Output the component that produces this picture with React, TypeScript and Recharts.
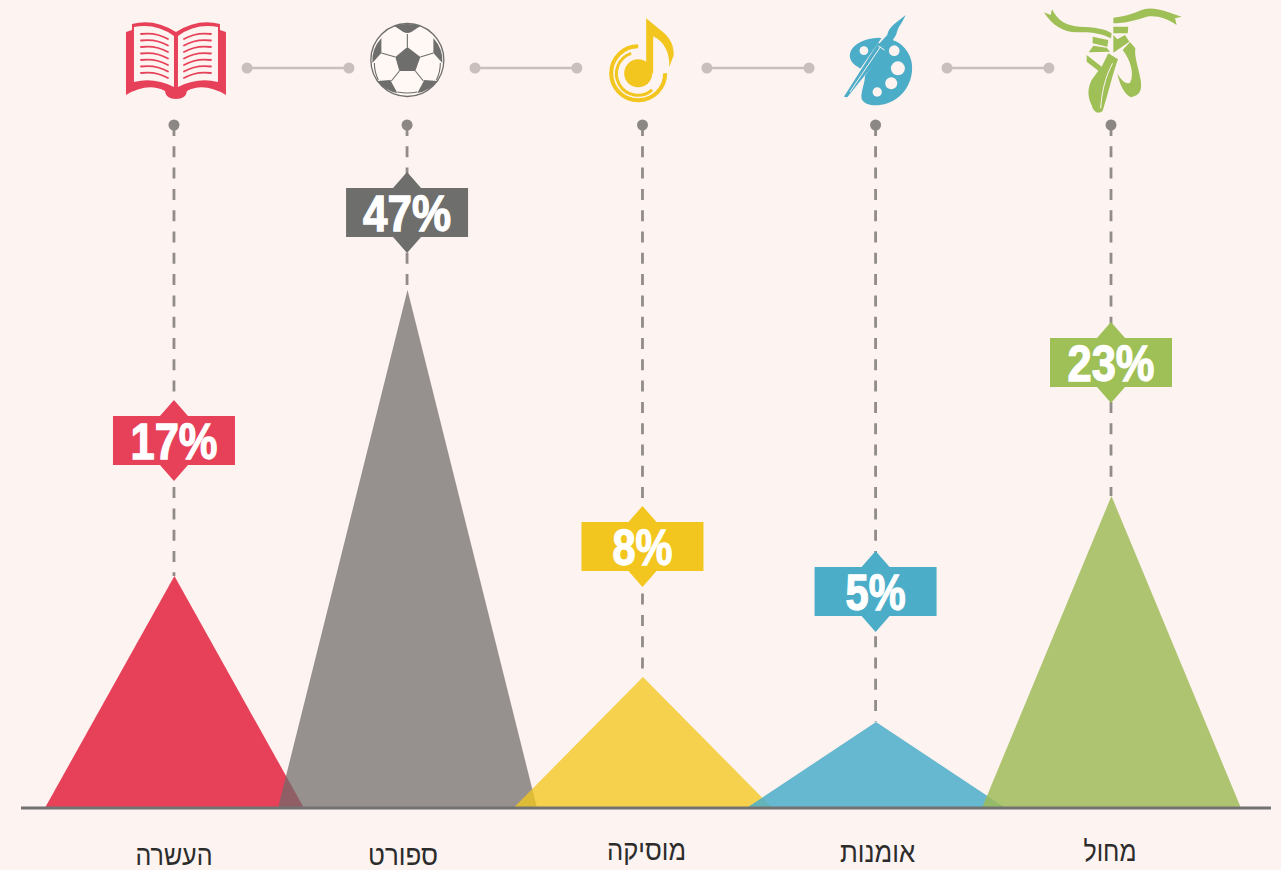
import React from "react";
import { ComposedChart, Bar, XAxis, YAxis, ReferenceLine, ReferenceDot } from "recharts";

// Data
const categories = ["העשרה", "ספורט", "מוסיקה", "אומנות", "מחול"];
const percents = [17, 47, 8, 5, 23];
const peakHeights = [232, 518, 131, 86, 312];
const badgeLevels = [367, 595, 261, 216, 445];
const slots = [0, 0.995, 2, 2.995, 4];

const colors = ["#e7415a", "#6e6e6c", "#f2c61f", "#4cadc9", "#9fbf57"];
const triangleOpacity = [1, 0.73, 0.78, 0.86, 0.84];
const triangleFill = ["#e7415a", "#6f6b69", "#f2c61f", "#4cadc9", "#9fbb57"];
const BG = "#fdf3f0";

const GUIDE_TOP = 683;
const ICON_LEVEL = 740;
const TRIANGLE_HALF_BASE = 129.5;
const connectors: [number, number][] = [
  [0.312, 0.747],
  [1.285, 1.72],
  [2.275, 2.711],
  [3.3, 3.735],
];

const tickStyle = [
  { dx: 0, base: 865, w: 77 },
  { dx: -4, base: 865, w: 70 },
  { dx: 4, base: 860, w: 79 },
  { dx: 2, base: 862, w: 75 },
  { dx: -1, base: 861, w: 53 },
];
const badgeTextWidth = [87, 88, 60, 60, 87];

const chartData = categories.map((name, i) => ({
  name,
  slot: slots[i],
  height: peakHeights[i],
  percent: percents[i],
}));

const Triangle = (props: any) => {
  const { x, y, width, height, index } = props;
  const i = index ?? 0;
  const c = x + width / 2;
  return (
    <path
      d={`M${c - TRIANGLE_HALF_BASE},${y + height}L${c},${y}L${c + TRIANGLE_HALF_BASE},${y + height}Z`}
      fill={triangleFill[i]}
      fillOpacity={triangleOpacity[i]}
    />
  );
};

const Tick = (props: any) => {
  const { x, index } = props;
  const s = tickStyle[index] ?? tickStyle[0];
  return (
    <text
      x={x + s.dx}
      y={s.base}
      textAnchor="middle"
      fontFamily="'Liberation Sans', sans-serif"
      fontSize={29}
      fill="#2c2c2c"
      textLength={s.w}
      lengthAdjust="spacingAndGlyphs"
    >
      {categories[index]}
    </text>
  );
};

const Badge = (i: number) => (props: any) => {
  const { cx, cy } = props;
  return (
    <g>
      <path
        d={`M${cx},${cy - 41}L${cx + 14},${cy - 25}L${cx + 61},${cy - 25}L${cx + 61},${cy + 24}L${cx + 14},${cy + 24}L${cx},${cy + 40}L${cx - 14},${cy + 24}L${cx - 61},${cy + 24}L${cx - 61},${cy - 25}L${cx - 14},${cy - 25}Z`}
        fill={colors[i]}
      />
      <text
        x={cx}
        y={cy + 18}
        textAnchor="middle"
        fill="#fff"
        stroke="#fff"
        strokeWidth={1.3}
        fontFamily="'Liberation Sans', sans-serif"
        fontWeight={700}
        fontSize={50}
        textLength={badgeTextWidth[i]}
        lengthAdjust="spacingAndGlyphs"
      >
        {`${percents[i]}%`}
      </text>
    </g>
  );
};

const BookIcon = () => {
  const c = colors[0];
  const ys = [-26, -19.5, -13, -6.5, 0, 6.5, 13];
  return (
    <g transform="translate(2,-8)">
      <path
        d="M-50,-28L-44,-30L-44,-36Q-22,-42 0,-28Q22,-42 44,-36L44,-30L50,-28L50,35Q28,22 11,31Q10,39 0,39Q-10,39 -11,31Q-28,22 -50,35Z"
        fill={c}
      />
      <path d="M-42,-33Q-20,-37 -2,-24L-2,27Q-22,17 -42,22Z" fill={BG} />
      <path d="M42,-33Q20,-37 2,-24L2,27Q22,17 42,22Z" fill={BG} />
      {ys.map((y) => (
        <g key={y} fill="none" stroke={c} strokeWidth={1.8} strokeLinecap="round">
          <path d={`M-35,${y}Q-20,${y - 2} -8,${y + 5}`} />
          <path d={`M35,${y}Q20,${y - 2} 8,${y + 5}`} />
        </g>
      ))}
    </g>
  );
};

const BallIcon = () => {
  const c = "#6e6e6c";
  return (
    <g transform="translate(0.3,-8)">
      <circle r={36.5} fill="#fff8f5" stroke={c} strokeWidth={1.3} />
      <path d="M0,-13L13,-3L8,11L-8,11L-12,-3Z" fill={c} />
      <path d="M-13,-34Q0,-38 13,-34L4,-28Q0,-26 -4,-28Z" fill={c} />
      <path d="M26,-22Q36,-11 35,3L26,-7Z" fill={c} />
      <path d="M-26,-22Q-36,-11 -35,3L-26,-7Z" fill={c} />
      <path d="M-30,21L-17,20L-10,33Q-22,31 -30,21Z" fill={c} />
      <path d="M30,21L17,20L10,33Q22,31 30,21Z" fill={c} />
      <g stroke={c} strokeWidth={1.1} fill="none">
        <path d="M0,-13L0,-26M13,-3L26,-7M8,11L16,21M-8,11L-16,21M-12,-3L-26,-7" />
        <path d="M-10,32Q0,34 10,32" />
        <path d="M-33,3Q-33,12 -29,20M33,3Q33,12 29,20" />
      </g>
    </g>
  );
};

const MusicIcon = () => {
  const c = colors[2];
  return (
    <g transform="translate(-4.3,5.3)">
      <circle r={14} fill={c} />
      <path
        d="M8,-12L8,-55L20,-45C30,-38 36,-30 35.5,-18L31,-6C32,-20 26,-32 15,-37L15,0L8,0Z"
        fill={c}
      />
      <path d="M0,-27A27,27 0 1 0 27,0" fill="none" stroke={c} strokeWidth={4} />
      <path d="M-7,-20A21.5,21.5 0 1 0 14,16.5" fill="none" stroke={c} strokeWidth={3} />
    </g>
  );
};

const PaletteIcon = () => {
  const c = colors[3];
  return (
    <g transform="scale(0.3333) translate(-885,-204)">
      <path
        d="M895,113C850,115 805,135 808,172C812,195 835,200 850,215C862,235 835,280 845,300C860,325 920,320 955,290C985,265 1000,225 993,185C985,150 955,120 925,118Z"
        fill={c}
      />
      {[
        [850, 152, 13],
        [941, 152, 16],
        [952, 205, 21],
        [932, 250, 18],
        [890, 276, 14],
      ].map(([x, y, r]) => (
        <circle key={x} cx={x} cy={y} r={r} fill={BG} />
      ))}
      <path d="M795,290L915,118" stroke={BG} strokeWidth={24} fill="none" />
      <path d="M790,290L893,128L918,145L800,292Z" fill={c} />
      <path d="M808,276L900,140" stroke={BG} strokeWidth={3} fill="none" />
      <path d="M893,138L912,150" stroke={BG} strokeWidth={3} fill="none" />
      <path
        d="M895,132L920,105C925,80 945,70 975,45C965,70 955,75 948,100C945,112 935,120 920,146Z"
        fill={c}
      />
    </g>
  );
};

const ShoesIcon = () => {
  const c = colors[4];
  return (
    <g transform="scale(0.3333) translate(-243,-204)" fill={c}>
      <path d="M42,37L62,45L66,28C85,65 110,78 150,80C190,82 225,85 245,100L243,115C215,100 180,95 140,97C100,97 65,75 42,37Z" />
      <path d="M250,53C290,50 320,35 345,27C375,20 410,35 455,50L435,55L440,75C410,55 380,45 350,50C320,60 285,70 250,70Z" />
      <path d="M188,110L235,120L232,140L188,130Z" />
      <path d="M176,157L190,137L230,143L240,155Z" />
      <path d="M250,80L295,80L293,100L250,100Z" />
      <path d="M250,105L262,118L285,105L298,125L250,158Z" />
      <path d="M170,165L215,200L235,160L264,178C250,215 235,280 218,332C205,345 190,335 186,318C172,290 172,265 185,240L205,212L170,185Z" />
      <path d="M248,190C225,230 215,280 212,325" fill="none" stroke={BG} strokeWidth={3} />
      <path d="M278,150L300,126L316,145C312,170 326,205 332,240C336,270 332,285 303,292C285,285 268,255 262,220C272,240 288,255 300,248C308,235 306,215 304,205C300,185 290,165 278,150Z" />
    </g>
  );
};

const icons = [BookIcon, BallIcon, MusicIcon, PaletteIcon, ShoesIcon];

const IconShape = (i: number) => (props: any) => {
  const Icon = icons[i];
  return (
    <g transform={`translate(${props.cx},${props.cy})`}>
      <Icon />
    </g>
  );
};

export default function App() {
  return (
    <div style={{ position: "fixed", left: 0, top: 0, width: 1281, height: 870, background: BG, overflow: "hidden" }}>
      <ComposedChart
        width={1281}
        height={870}
        data={chartData}
        margin={{ top: 0, right: 10, bottom: 0, left: 21 }}
      >
        <XAxis
          dataKey="slot"
          type="number"
          domain={[-0.653, 4.683]}
          ticks={slots}
          interval={0}
          tick={<Tick />}
          tickLine={false}
          axisLine={{ stroke: "#727272", strokeWidth: 3 }}
          height={62}
          allowDataOverflow
        />
        <YAxis hide domain={[0, 808]} allowDataOverflow />
        <Bar dataKey="height" barSize={200} shape={<Triangle />} isAnimationActive={false} />
        {connectors.map(([a, b]) => (
          <ReferenceLine
            key={a}
            segment={[
              { x: a, y: ICON_LEVEL },
              { x: b, y: ICON_LEVEL },
            ]}
            stroke="#c9bfbc"
            strokeWidth={2.5}
          />
        ))}
        {connectors.flat().map((v) => (
          <ReferenceDot key={v} x={v} y={ICON_LEVEL} r={5.5} fill="#c9bfbc" stroke="none" />
        ))}
        {slots.map((s, i) => (
          <ReferenceLine
            key={`g${i}`}
            segment={[
              { x: s, y: GUIDE_TOP },
              { x: s, y: peakHeights[i] },
            ]}
            stroke="#918c8a"
            strokeWidth={2.8}
            strokeDasharray="11 10.3"
          />
        ))}
        {slots.map((s, i) => (
          <ReferenceDot key={`d${i}`} x={s} y={GUIDE_TOP} r={5.5} fill="#8b8785" stroke="none" />
        ))}
        {slots.map((s, i) => (
          <ReferenceDot key={`b${i}`} x={s} y={badgeLevels[i]} shape={Badge(i)} />
        ))}
        {slots.map((s, i) => (
          <ReferenceDot key={`i${i}`} x={s} y={ICON_LEVEL} shape={IconShape(i)} />
        ))}
      </ComposedChart>
    </div>
  );
}
